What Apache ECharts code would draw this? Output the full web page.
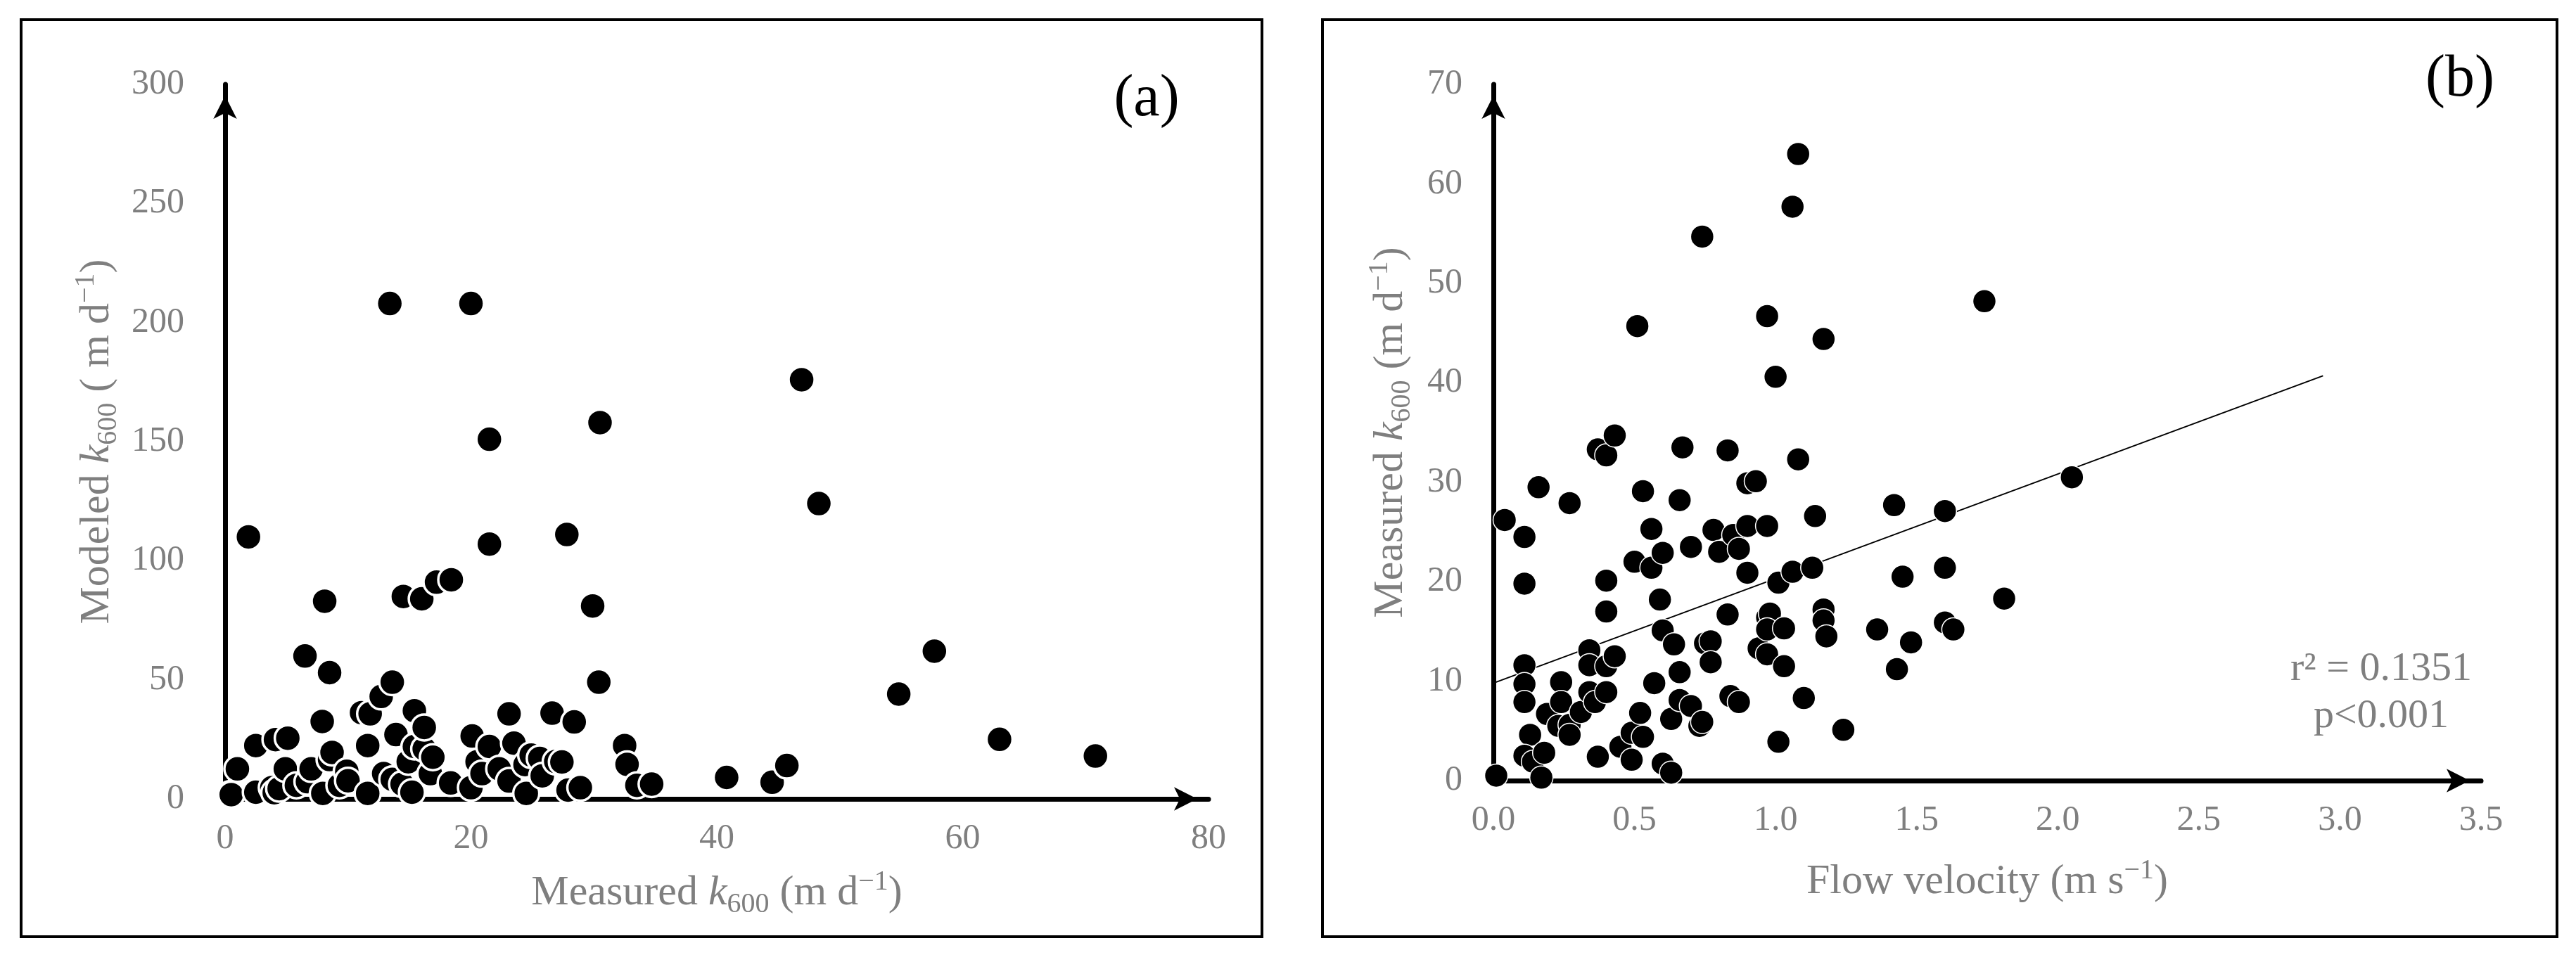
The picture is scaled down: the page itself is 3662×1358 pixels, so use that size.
<!DOCTYPE html>
<html><head><meta charset="utf-8">
<script src="https://cdn.jsdelivr.net/npm/echarts@6/dist/echarts.min.js"></script>
<style>html,body{margin:0;padding:0;background:#fff}#c{width:3662px;height:1358px}</style>
</head><body><div id="c"></div>
<script>
// Panel (a): measured vs modeled k600
const measuredA = [0.4,0.5,1.0,1.9,2.5,2.5,3.8,4.0,4.1,4.4,4.9,5.1,5.8,6.5,6.7,7.0,7.9,7.95,8.1,8.5,8.5,8.7,9.3,9.9,10.0,11.1,11.6,11.6,11.8,12.7,12.9,13.4,13.6,13.6,13.9,14.4,14.5,14.9,15.2,15.4,15.4,16.0,16.2,16.2,16.7,16.9,17.2,18.35,18.4,20.0,20.0,20.1,20.5,20.9,21.5,21.5,21.5,22.3,23.1,23.1,23.5,24.4,24.5,24.9,25.6,25.8,26.6,26.9,27.4,27.8,27.9,28.4,28.9,29.9,30.4,30.5,32.5,32.7,33.5,34.7,40.8,44.5,45.7,46.9,48.3,54.8,57.7,63.0,70.8];
const modeledA  = [2.0,1.8,12.6,110,2.8,22.4,4.7,2.6,24.9,4.3,12.6,25.5,5.7,60,7.2,12.6,32.5,2.3,83,53,16.5,19.5,5.7,11.6,7.6,36.2,2.3,22.4,35.7,43,10.6,208,49,8.2,27,6.2,85,15.6,2.8,37,22,84,21,30,10.6,17.5,91,6.7,92,208,4.7,26.4,15.6,10.6,151,107,22,12.6,35.7,7.5,23.4,14.4,2.3,18.4,17,9.7,36,15.7,15.5,111,3.7,32.3,4.7,81,49,158,22.4,14.5,5.7,6.2,9,7,14,176,124,44,62,25,18];

// Panel (b): flow velocity vs measured k600
const velocityB = [0.01,0.04,0.11,0.11,0.16,0.27,0.11,0.11,0.11,0.13,0.11,0.14,0.18,0.17,0.19,0.24,0.24,0.23,0.27,0.27,0.31,0.34,0.34,0.34,0.36,0.37,0.40,0.43,0.40,0.40,0.40,0.40,0.43,0.37,0.45,0.49,0.49,0.53,0.52,0.51,0.53,0.50,0.56,0.56,0.60,0.59,0.57,0.60,0.64,0.66,0.60,0.63,0.63,0.66,0.70,0.73,0.74,0.67,0.66,0.70,0.74,0.75,0.77,0.77,0.78,0.80,0.83,0.85,0.87,0.83,0.84,0.87,0.90,0.93,0.90,0.90,0.97,0.97,1.00,1.08,1.06,1.08,1.17,0.94,0.97,0.97,0.98,0.97,1.03,1.03,1.01,1.06,1.13,1.14,1.17,1.17,1.18,1.10,1.01,1.24,1.36,1.42,1.45,1.48,1.43,1.60,1.60,1.60,1.63,1.74,1.81,2.05];
const measuredB = [0.5,26.2,24.5,19.8,29.5,27.9,11.6,9.7,7.9,4.6,2.5,1.9,2.8,0.3,6.7,9.9,7.9,5.5,5.6,4.6,6.9,13.1,11.6,8.9,7.9,33.3,32.7,34.7,20.1,17.0,11.5,8.9,12.5,2.4,3.4,4.8,2.1,4.4,6.8,45.7,29.1,22.0,21.4,25.3,22.9,18.2,9.8,15.1,13.7,10.9,1.7,0.8,6.2,8.1,7.5,5.5,5.9,33.5,28.2,23.5,54.7,13.8,14.0,11.9,25.2,23.0,33.2,24.7,23.3,16.7,8.5,7.9,29.9,30.1,25.6,20.9,25.6,46.7,40.6,63.0,57.7,32.3,44.4,13.3,12.7,16.4,16.8,15.2,15.3,11.5,19.9,21.0,21.4,26.6,17.2,16.1,14.5,8.3,3.9,5.1,15.2,27.7,20.5,13.9,11.2,27.1,21.4,15.9,15.2,48.2,18.3,30.5];

// Regression line endpoints (panel b)
const trendVelocity = [0, 2.94];
const trendMeasured = [9.8, 40.7];

// Axis tick settings
const ticksAx = {min: 0, max: 80, interval: 20};
const ticksAy = {min: 0, max: 300, interval: 50};
const ticksBx = {min: 0, max: 3.5, interval: 0.5};
const ticksBy = {min: 0, max: 70, interval: 10};

const FONT = 'Liberation Serif';
const GRAY = '#7f7f7f';
const rich = {
  t: {fontFamily: FONT, fontSize: 60, color: GRAY, lineHeight: 72},
  i: {fontFamily: FONT, fontSize: 60, color: GRAY, fontStyle: 'italic', lineHeight: 72},
  s: {fontFamily: FONT, fontSize: 40, color: GRAY, verticalAlign: 'bottom', lineHeight: 36},
  p: {fontFamily: FONT, fontSize: 40, color: GRAY, verticalAlign: 'top', lineHeight: 44}
};
const axisLineCommon = {
  show: true, onZero: false,
  lineStyle: {color: '#000', width: 7},
  symbol: ['none', 'arrow'], symbolSize: [25, 33], symbolOffset: [0, -16]
};
function xAxisCfg(grid, t, name, gap, fmt) {
  return Object.assign({
    type: 'value', gridIndex: grid,
    name: name, nameLocation: 'middle', nameGap: gap,
    nameTextStyle: {rich: rich},
    axisLine: axisLineCommon, axisTick: {show: false}, splitLine: {show: false},
    axisLabel: {fontFamily: FONT, fontSize: 50, color: GRAY, margin: 32, formatter: fmt}
  }, t);
}
function yAxisCfg(grid, t, name, gap, margin) {
  return Object.assign({
    type: 'value', gridIndex: grid,
    name: name, nameLocation: 'middle', nameGap: gap,
    nameTextStyle: {rich: rich},
    axisLine: axisLineCommon, axisTick: {show: false}, splitLine: {show: false},
    axisLabel: {fontFamily: FONT, fontSize: 50, color: GRAY, margin: margin}
  }, t);
}

const chart = echarts.init(document.getElementById('c'), null, {renderer: 'canvas'});
chart.setOption({
  backgroundColor: '#fff',
  animation: false,
  grid: [
    {left: 320, top: 120, width: 1398, height: 1016},
    {left: 2123, top: 120, width: 1404, height: 990}
  ],
  xAxis: [
    xAxisCfg(0, ticksAx, '{t|Measured }{i|k}{s|600}{t| (m d}{p|−1}{t|)}', 98, v => v),
    xAxisCfg(1, ticksBx, '{t|Flow velocity (m s}{p|−1}{t|)}', 108, v => v.toFixed(1))
  ],
  yAxis: [
    yAxisCfg(0, ticksAy, '{t|Modeled }{i|k}{s|600}{t| ( m d}{p|−1}{t|)}', 146, 58),
    yAxisCfg(1, ticksBy, '{t|Measured }{i|k}{s|600}{t| (m d}{p|−1}{t|)}', 110, 44)
  ],
  series: [
    {
      type: 'scatter', xAxisIndex: 0, yAxisIndex: 0,
      data: measuredA.map((x, i) => [x, modeledA[i]]),
      symbol: 'circle', symbolSize: 37,
      itemStyle: {color: '#000', borderColor: '#fff', borderWidth: 3.5, opacity: 1}
    },
    {
      type: 'line', xAxisIndex: 1, yAxisIndex: 1,
      data: trendVelocity.map((x, i) => [x, trendMeasured[i]]),
      symbol: 'none', lineStyle: {color: '#000', width: 2}, z: 1
    },
    {
      type: 'scatter', xAxisIndex: 1, yAxisIndex: 1,
      data: velocityB.map((x, i) => [x, measuredB[i]]),
      symbol: 'circle', symbolSize: 33,
      itemStyle: {color: '#000', borderColor: '#fff', borderWidth: 1.5, opacity: 1},
      z: 3
    }
  ],
  graphic: [
    {type: 'rect', shape: {x: 30, y: 28, width: 1764, height: 1304}, style: {fill: 'none', stroke: '#000', lineWidth: 4}},
    {type: 'rect', shape: {x: 1880, y: 28, width: 1755, height: 1304}, style: {fill: 'none', stroke: '#000', lineWidth: 4}},
    {type: 'text', x: 1630, y: 142, style: {text: '(a)', font: '84px "Liberation Serif"', fill: '#000', align: 'center', verticalAlign: 'middle'}},
    {type: 'text', x: 3497, y: 114, style: {text: '(b)', font: '84px "Liberation Serif"', fill: '#000', align: 'center', verticalAlign: 'middle'}},
    {type: 'text', x: 3385, y: 952, style: {text: 'r² = 0.1351', font: '58px "Liberation Serif"', fill: GRAY, align: 'center', verticalAlign: 'middle'}},
    {type: 'text', x: 3385, y: 1019, style: {text: 'p<0.001', font: '58px "Liberation Serif"', fill: GRAY, align: 'center', verticalAlign: 'middle'}}
  ]
});
</script>
</body></html>
